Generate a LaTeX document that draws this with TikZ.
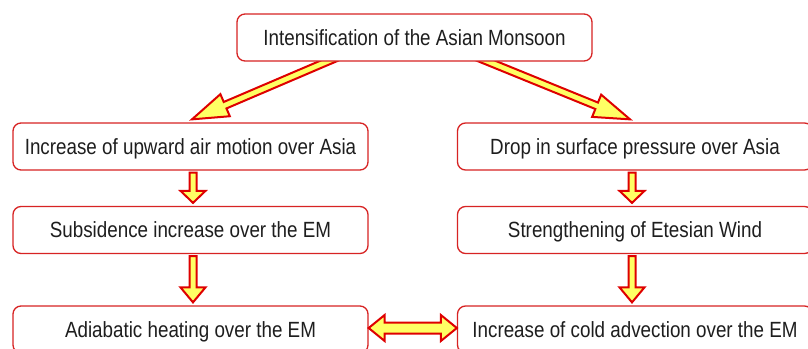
\documentclass[tikz,border=0pt]{standalone}
\usepackage{fontspec}
\newfontfamily\boxfont[FakeStretch=0.855]{Liberation Sans}
\usetikzlibrary{calc}
\pgfdeclarelayer{background}
\pgfsetlayers{background,main}
\definecolor{boxred}{RGB}{215,35,35}
\definecolor{arrred}{RGB}{222,0,0}
\definecolor{arryel}{RGB}{255,255,100}
\definecolor{txt}{RGB}{30,30,30}
\tikzset{
  box/.style={draw=boxred, line width=1.3pt, rounded corners=8pt, fill=white,
    minimum width=355pt, minimum height=47pt, inner sep=0pt, text=txt,
    text height=20pt, text depth=4.2pt,
    font=\boxfont\fontsize{22}{26}\selectfont},
  arrowbody/.style={draw=arrred, fill=arryel, line width=2pt, line join=miter}
}
% #1 start, #2 end, #3 half shaft, #4 half head, #5 head length
\newcommand\blockarrow[5]{%
  \coordinate (ba-s) at #1; \coordinate (ba-t) at #2;
  \coordinate (ba-h) at ($(ba-t)!#5!(ba-s)$);
  \draw[arrowbody] ($(ba-s)!#3!90:(ba-t)$) -- ($(ba-h)!#3!90:(ba-t)$)
    -- ($(ba-h)!#4!90:(ba-t)$) -- (ba-t) -- ($(ba-h)!#4!-90:(ba-t)$)
    -- ($(ba-h)!#3!-90:(ba-t)$) -- ($(ba-s)!#3!-90:(ba-t)$) -- cycle;}
% double arrow
\newcommand\dblarrow[5]{%
  \coordinate (da-s) at #1; \coordinate (da-t) at #2;
  \coordinate (da-h) at ($(da-t)!#5!(da-s)$);
  \coordinate (da-g) at ($(da-s)!#5!(da-t)$);
  \draw[arrowbody] (da-s) -- ($(da-g)!#4!90:(da-t)$) -- ($(da-g)!#3!90:(da-t)$)
    -- ($(da-h)!#3!90:(da-t)$) -- ($(da-h)!#4!90:(da-t)$) -- (da-t)
    -- ($(da-h)!#4!-90:(da-t)$) -- ($(da-h)!#3!-90:(da-t)$)
    -- ($(da-g)!#3!-90:(da-t)$) -- ($(da-g)!#4!-90:(da-t)$) -- cycle;}
\begin{document}
\begin{tikzpicture}[x=1pt,y=-1pt]
\path[use as bounding box] (0,0) rectangle (808,348);
\clip (0,0) rectangle (808,348);
\node[box] (top) at (414.5,37.5) {Intensification of the Asian Monsoon};
\node[box] (l1) at (190.5,146.5) {Increase of upward air motion over Asia};
\node[box] (l2) at (190.5,230) {Subsidence increase over the EM};
\node[box] (l3) at (190.5,329.5) {Adiabatic heating over the EM};
\node[box] (r1) at (635,146.5) {Drop in surface pressure over Asia};
\node[box] (r2) at (635,230) {Strengthening of Etesian Wind};
\node[box] (r3) at (635,329.5) {Increase of cold advection over the EM};
\begin{pgfonlayer}{background}
\blockarrow{($(top.south)+(-73.5,-6)$)}{($(l1.north)+(1.5,-3)$)}{3.5pt}{12pt}{36pt}
\blockarrow{($(top.south)+(59,-6)$)}{($(r1.north)+(-5,-3)$)}{3.5pt}{12pt}{36pt}
\end{pgfonlayer}
\blockarrow{($(l1.south)+(2.5,2)$)}{($(l2.north)+(2.5,-3)$)}{3.5pt}{12.5pt}{12pt}
\blockarrow{($(r1.south)+(-3,2)$)}{($(r2.north)+(-3,-3)$)}{3.5pt}{12.5pt}{12pt}
\blockarrow{($(l2.south)+(2.5,2)$)}{($(l3.north)+(2.5,-3)$)}{3.5pt}{12.5pt}{15pt}
\blockarrow{($(r2.south)+(-3,2)$)}{($(r3.north)+(-3,-3)$)}{3.5pt}{12.5pt}{15pt}
\dblarrow{($(l3.east)+(0,-1.5)$)}{($(r3.west)+(0,-1.5)$)}{5.5pt}{13pt}{16pt}
\end{tikzpicture}
\end{document}
